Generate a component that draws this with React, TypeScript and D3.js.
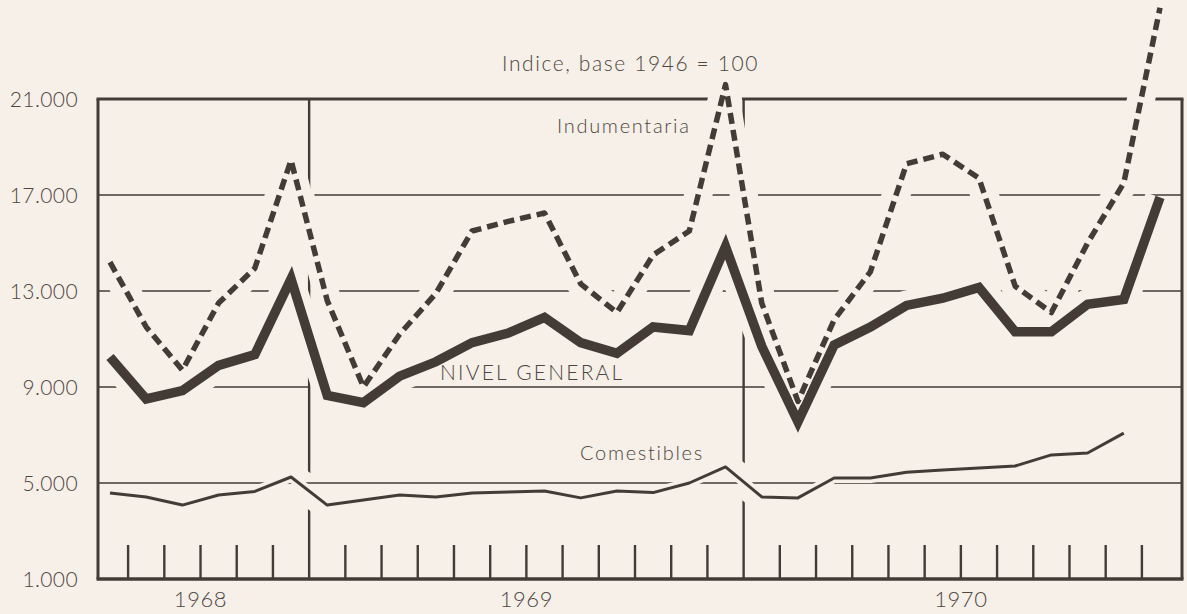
import React from 'react'
import * as d3 from 'd3'

// months jul-1968 .. dec-1970, one value per month
const years = ['1968', '1969', '1970']
const monthsPerYear = [6, 12, 12]

const nivelGeneral = [
  10250, 8500, 8850, 9900, 10350, 13500,
  8650, 8350, 9450, 10050, 10850, 11250, 11900, 10850, 10400, 11500, 11350, 14850,
  10700, 7550, 10750, 11500, 12400, 12700, 13150, 11300, 11300, 12450, 12650, 16900,
]
const indumentaria = [
  14200, 11500, 9700, 12500, 13950, 18450,
  12600, 9000, 11200, 12900, 15500, 15900, 16250, 13300, 12100, 14500, 15500, 21600,
  12500, 8400, 11800, 13800, 18300, 18700, 17700, 13200, 12100, 15000, 17500, 24800,
]
// food series stops one month earlier
const comestibles = [
  4580, 4420, 4080, 4500, 4650, 5250,
  4080, 4290, 4500, 4420, 4580, 4620, 4670, 4380, 4670, 4600, 5000, 5670,
  4420, 4380, 5210, 5210, 5450, 5540, 5620, 5710, 6170, 6250, 7080,
]
const yTicks = [1000, 5000, 9000, 13000, 17000, 21000]

const W = 1187, H = 614
const bg = '#f6f0e9'
const ink = '#443b36'
const txt = '#4f4641'
const font = 'Lato, "Open Sans", sans-serif'

const fmt = d3.formatLocale({ decimal: ',', thousands: '.', grouping: [3], currency: ['', ''] }).format(',')

export default function App() {
  const x = d3.scaleLinear().domain([0, 29]).range([110, 1160])
  const y = d3.scaleLinear().domain([1000, 21000]).range([579, 99])
  const left = 98, right = 1182, top = y(21000), bottom = y(1000)

  const line = d3.line<number>().x((d, i) => x(i)).y(d => y(d))
  const pNivel = line(nivelGeneral) || ''
  const pInd = line(indumentaria) || ''
  const pCom = line(comestibles) || ''

  // month boundaries, year dividers where a new year starts
  const yearStarts = d3.cumsum(monthsPerYear)
  const bounds = d3.range(29).map(i => ({ i, divider: yearStarts.includes(i + 1) }))
  const yearCenters = years.map((yr, k) => {
    const s = k === 0 ? 0 : yearStarts[k - 1]
    return { yr, cx: x(s + monthsPerYear[k] / 2 - 0.5) }
  })

  // grid lines are interrupted where the curves cross them
  const maskPaths = (indW: number, nivW: number, comW: number) => (
    <>
      <rect x={0} y={0} width={W} height={H} fill="white" />
      <path d={pInd} fill="none" stroke="black" strokeWidth={indW} strokeLinejoin="round" />
      <path d={pNivel} fill="none" stroke="black" strokeWidth={nivW} strokeLinejoin="round" />
      <path d={pCom} fill="none" stroke="black" strokeWidth={comW} strokeLinejoin="round" />
    </>
  )

  const label = { fontFamily: font, fontWeight: 300, fill: txt } as const

  return (
    <svg width={W} height={H} style={{ position: 'absolute', left: 0, top: 0 }}>
      <defs>
        <mask id="mH" maskUnits="userSpaceOnUse" x={0} y={0} width={W} height={H}>{maskPaths(28, 30, 10)}</mask>
        <mask id="mV" maskUnits="userSpaceOnUse" x={0} y={0} width={W} height={H}>{maskPaths(24, 26, 30)}</mask>
      </defs>
      <rect x={0} y={0} width={W} height={H} fill={bg} />

      <g mask="url(#mH)">
        {yTicks.slice(1, -1).map(v => (
          <line key={v} x1={left} x2={right} y1={y(v)} y2={y(v)} stroke={ink} strokeWidth={1.6} />
        ))}
        <line x1={left - 1.5} x2={right + 1.5} y1={top} y2={top} stroke={ink} strokeWidth={3} />
      </g>
      <g mask="url(#mV)">
        {bounds.filter(b => b.divider).map(b => (
          <line key={b.i} x1={x(b.i + 0.5)} x2={x(b.i + 0.5)} y1={top} y2={bottom} stroke={ink} strokeWidth={2.4} />
        ))}
      </g>
      {bounds.filter(b => !b.divider).map(b => (
        <line key={b.i} x1={x(b.i + 0.5)} x2={x(b.i + 0.5)} y1={bottom - 34} y2={bottom} stroke={ink} strokeWidth={2.4} />
      ))}
      <line x1={left} x2={left} y1={top} y2={bottom} stroke={ink} strokeWidth={3} />
      <line x1={right} x2={right} y1={top} y2={bottom} stroke={ink} strokeWidth={3} />
      <line x1={left - 1.5} x2={right + 1.5} y1={bottom} y2={bottom} stroke={ink} strokeWidth={3.5} />

      <path d={pCom} fill="none" stroke={ink} strokeWidth={3} strokeLinejoin="round" />
      <path d={pNivel} fill="none" stroke={ink} strokeWidth={9.5} strokeLinejoin="miter" strokeMiterlimit={3} />
      <path d={pInd} fill="none" stroke={bg} strokeWidth={8.5} strokeLinejoin="round" />
      <path d={pInd} fill="none" stroke={ink} strokeWidth={5.5} strokeDasharray="11 6" strokeLinejoin="round" />

      {yTicks.map(v => (
        <text key={v} x={78} y={y(v)} dy="0.36em" textAnchor="end" fontSize={21} letterSpacing={0.4} {...label}>
          {fmt(v)}
        </text>
      ))}
      {yearCenters.map(d => (
        <text key={d.yr} x={d.cx} y={607} textAnchor="middle" fontSize={22} letterSpacing={0.6} {...label}>
          {d.yr}
        </text>
      ))}

      <text x={502} y={71} fontSize={21} letterSpacing={1.6} {...label}>Indice, base 1946 = 100</text>
      <text x={557} y={133} fontSize={20} letterSpacing={1.7} {...label}>Indumentaria</text>
      <text x={440} y={380} fontSize={21} letterSpacing={2.2} {...label}>NIVEL GENERAL</text>
      <text x={580} y={460} fontSize={20} letterSpacing={1.7} {...label}>Comestibles</text>
    </svg>
  )
}
